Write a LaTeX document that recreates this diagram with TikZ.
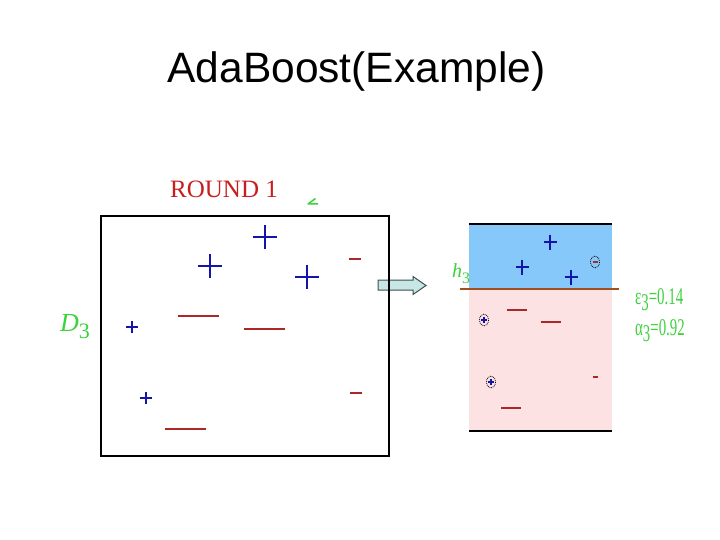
\documentclass[tikz,border=0pt]{standalone}
\usepackage{fontspec}
\setmainfont{Liberation Serif}
\newfontfamily\titlefont{Liberation Sans}
\usetikzlibrary{calc}
\definecolor{plusc}{RGB}{20,20,170}
\definecolor{minusc}{RGB}{170,40,40}
\definecolor{greenc}{RGB}{60,210,60}
\definecolor{bluefill}{RGB}{135,200,250}
\definecolor{pinkfill}{RGB}{252,226,226}
\definecolor{boundc}{RGB}{160,80,30}
\definecolor{arrowfill}{RGB}{200,230,230}
\definecolor{arrowline}{RGB}{60,80,80}
\definecolor{roundc}{RGB}{200,30,30}
\tikzset{
  bigplus/.pic={\draw[plusc,line width=2.2pt] (-12,0)--(12,0) (0,-12)--(0,12);},
  smallplus/.pic={\draw[plusc,line width=2.8pt] (-6,0)--(6,0) (0,-6)--(0,6);},
  midplus/.pic={\draw[plusc,line width=2pt] (-6.5,0)--(6.5,0) (0,-7.5)--(0,7.5);},
  longminus/.pic={\draw[minusc,line width=2.7pt] (-20.5,0)--(20.5,0);},
  shortminus/.pic={\draw[minusc,line width=2.7pt] (-6,0)--(6,0);},
  thinminus/.pic={\draw[minusc,line width=1.5pt] (-10,0)--(10,0);},
  medminus/.pic={\draw[minusc,line width=2.5pt] (-10,0)--(10,0);},
  tinyminus/.pic={\draw[minusc,line width=1.5pt] (-2.5,0)--(2.5,0);},
  circplus/.pic={\draw[black,densely dotted,line width=0.8pt] (0,0) ellipse [x radius=4.5, y radius=6];
                 \draw[plusc,line width=1.6pt] (-3,0)--(3,0) (0,-3)--(0,3);},
  circminus/.pic={\draw[black,densely dotted,line width=0.8pt] (0,0) ellipse [x radius=4.5, y radius=6];
                 \draw[minusc,line width=1.2pt] (-2.5,0)--(2.5,0);},
  greentxt/.style={text=greenc,inner sep=0pt},
}
\begin{document}
\begin{tikzpicture}[x=1pt,y=-1pt]
\useasboundingbox[fill=white] (0,0) rectangle (720,540);
% title
\node[anchor=base,inner sep=0pt,font=\titlefont\fontsize{42.5}{42.5}\selectfont] (title) at (356.5,82.5) {AdaBoost(Example)};
% round label
\node[anchor=base west,inner sep=0pt,text=roundc,font=\fontsize{25}{25}\selectfont] (round) at (170,197) {ROUND 1};
% fragment of green 2
\draw[greenc,line width=1.5pt,line join=round] (315.5,198.5) -- (308,204) -- (318,204);
% D3
\node[greentxt,anchor=base west,font=\fontsize{26}{26}\selectfont] (d3) at (60,331) {\textit{D}\raisebox{-7pt}{\fontsize{22}{22}\selectfont 3}};
% arrow
\coordinate (a0) at (378,285);
\coordinate (a1) at (426,285.5);
\draw[arrowline,fill=arrowfill,line width=1pt,line join=miter]
  (378,280) -- (413,280) -- (413,276.5) -- (a1) -- (413,294.5) -- (413,290) -- (378,290) -- cycle;
% left box
\draw[black,line width=1.4pt] (101,216) rectangle (389,456);
% left points
\pic at (265,237) {bigplus};
\pic at (210,266) {bigplus};
\pic at (307,277) {bigplus};
\pic at (355,259) {shortminus};
\pic at (198.5,316) {longminus};
\pic at (264.5,329) {longminus};
\pic at (132,327) {smallplus};
\pic at (146,398) {smallplus};
\pic at (356,393) {shortminus};
\pic at (185.5,429) {longminus};
% right panel
\fill[bluefill] (469,224) rectangle (612,289);
\fill[pinkfill] (469,289) rectangle (612,431);
\draw[black,line width=1.2pt] (469,224) -- (612,224);
\draw[black,line width=1.2pt] (469,431) -- (612,431);
\draw[boundc,line width=2.5pt] (460,289) -- (619,289);
\pic at (550,242) {midplus};
\pic at (522,267) {midplus};
\pic at (571,277) {midplus};
\pic at (595,262) {circminus};
\pic at (517,310) {thinminus};
\pic at (550.5,322) {medminus};
\pic at (484,320) {circplus};
\pic at (491,382) {circplus};
\pic at (595.5,377) {tinyminus};
\pic at (511,408) {medminus};
% h3
\node[greentxt,anchor=base west,font=\fontsize{20}{20}\selectfont] (h3) at (452,277) {\textit{h}\raisebox{-6pt}{\fontsize{16}{16}\selectfont 3}};
% epsilon, alpha
\node[greentxt,anchor=base west,xscale=0.62,font=\fontsize{24}{24}\selectfont] (eps) at (635,304) {ε\raisebox{-6pt}{3}=0.14};
\node[greentxt,anchor=base west,xscale=0.62,font=\fontsize{24}{24}\selectfont] (alp) at (635,335) {α\raisebox{-6pt}{3}=0.92};
\end{tikzpicture}
\end{document}
